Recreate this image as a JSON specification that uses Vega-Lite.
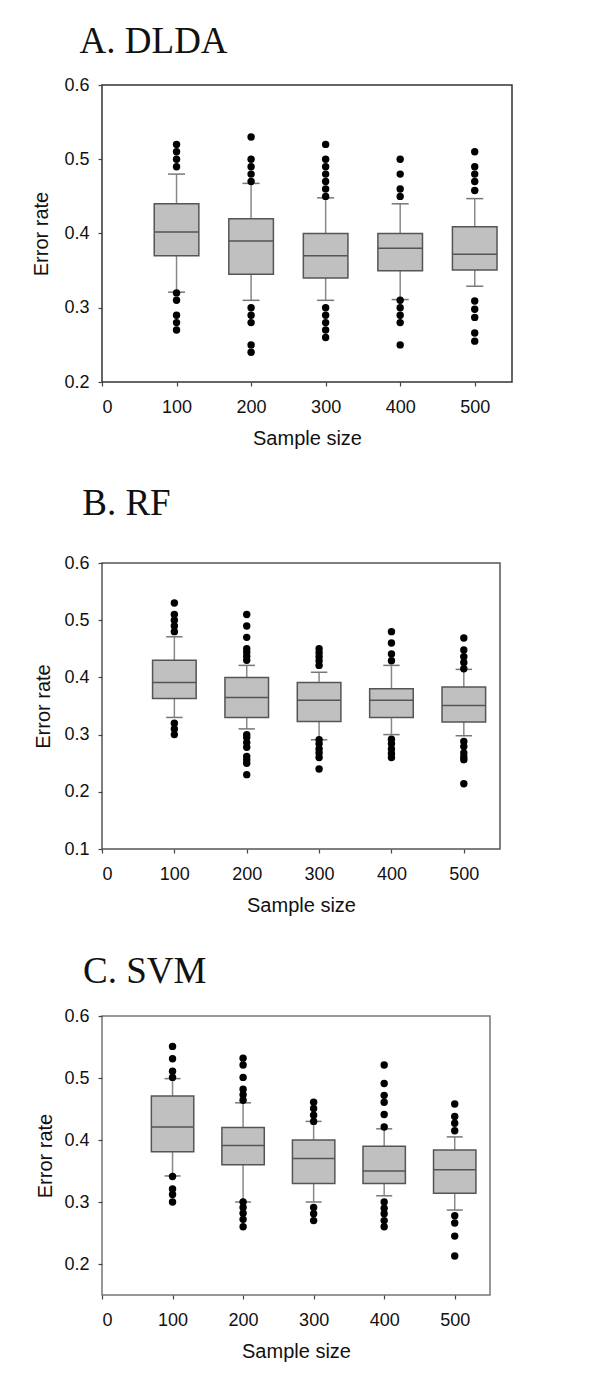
{
  "$schema": "https://vega.github.io/schema/vega-lite/v6.json",
  "background": "white",
  "padding": {"left": 30, "top": 22, "right": 0, "bottom": 0},
  "datasets": {
    "boxes": [
      {"panel": "A", "n": 100, "lo": 0.321, "q1": 0.370, "med": 0.402, "q3": 0.440, "hi": 0.480},
      {"panel": "A", "n": 200, "lo": 0.310, "q1": 0.345, "med": 0.390, "q3": 0.420, "hi": 0.4675},
      {"panel": "A", "n": 300, "lo": 0.310, "q1": 0.340, "med": 0.370, "q3": 0.400, "hi": 0.448},
      {"panel": "A", "n": 400, "lo": 0.311, "q1": 0.350, "med": 0.380, "q3": 0.400, "hi": 0.440},
      {"panel": "A", "n": 500, "lo": 0.329, "q1": 0.351, "med": 0.372, "q3": 0.409, "hi": 0.447},
      {"panel": "B", "n": 100, "lo": 0.330, "q1": 0.363, "med": 0.391, "q3": 0.430, "hi": 0.471},
      {"panel": "B", "n": 200, "lo": 0.310, "q1": 0.330, "med": 0.365, "q3": 0.400, "hi": 0.421},
      {"panel": "B", "n": 300, "lo": 0.291, "q1": 0.323, "med": 0.360, "q3": 0.391, "hi": 0.409},
      {"panel": "B", "n": 400, "lo": 0.300, "q1": 0.330, "med": 0.360, "q3": 0.380, "hi": 0.421},
      {"panel": "B", "n": 500, "lo": 0.298, "q1": 0.322, "med": 0.351, "q3": 0.383, "hi": 0.414},
      {"panel": "C", "n": 100, "lo": 0.342, "q1": 0.381, "med": 0.421, "q3": 0.471, "hi": 0.499},
      {"panel": "C", "n": 200, "lo": 0.300, "q1": 0.360, "med": 0.391, "q3": 0.420, "hi": 0.460},
      {"panel": "C", "n": 300, "lo": 0.300, "q1": 0.330, "med": 0.370, "q3": 0.400, "hi": 0.430},
      {"panel": "C", "n": 400, "lo": 0.310, "q1": 0.330, "med": 0.350, "q3": 0.390, "hi": 0.418},
      {"panel": "C", "n": 500, "lo": 0.287, "q1": 0.314, "med": 0.352, "q3": 0.384, "hi": 0.405}
    ],
    "outliers": [
      {"panel": "A", "n": 100, "v": 0.52}, {"panel": "A", "n": 100, "v": 0.51}, {"panel": "A", "n": 100, "v": 0.50}, {"panel": "A", "n": 100, "v": 0.49},
      {"panel": "A", "n": 100, "v": 0.32}, {"panel": "A", "n": 100, "v": 0.31}, {"panel": "A", "n": 100, "v": 0.29}, {"panel": "A", "n": 100, "v": 0.28}, {"panel": "A", "n": 100, "v": 0.27},
      {"panel": "A", "n": 200, "v": 0.53}, {"panel": "A", "n": 200, "v": 0.50}, {"panel": "A", "n": 200, "v": 0.49}, {"panel": "A", "n": 200, "v": 0.48}, {"panel": "A", "n": 200, "v": 0.47},
      {"panel": "A", "n": 200, "v": 0.30}, {"panel": "A", "n": 200, "v": 0.29}, {"panel": "A", "n": 200, "v": 0.28}, {"panel": "A", "n": 200, "v": 0.25}, {"panel": "A", "n": 200, "v": 0.24},
      {"panel": "A", "n": 300, "v": 0.52}, {"panel": "A", "n": 300, "v": 0.50}, {"panel": "A", "n": 300, "v": 0.49}, {"panel": "A", "n": 300, "v": 0.48}, {"panel": "A", "n": 300, "v": 0.47}, {"panel": "A", "n": 300, "v": 0.46}, {"panel": "A", "n": 300, "v": 0.45},
      {"panel": "A", "n": 300, "v": 0.30}, {"panel": "A", "n": 300, "v": 0.29}, {"panel": "A", "n": 300, "v": 0.28}, {"panel": "A", "n": 300, "v": 0.27}, {"panel": "A", "n": 300, "v": 0.26},
      {"panel": "A", "n": 400, "v": 0.50}, {"panel": "A", "n": 400, "v": 0.48}, {"panel": "A", "n": 400, "v": 0.46}, {"panel": "A", "n": 400, "v": 0.45},
      {"panel": "A", "n": 400, "v": 0.31}, {"panel": "A", "n": 400, "v": 0.30}, {"panel": "A", "n": 400, "v": 0.29}, {"panel": "A", "n": 400, "v": 0.28}, {"panel": "A", "n": 400, "v": 0.25},
      {"panel": "A", "n": 500, "v": 0.51}, {"panel": "A", "n": 500, "v": 0.49}, {"panel": "A", "n": 500, "v": 0.48}, {"panel": "A", "n": 500, "v": 0.47}, {"panel": "A", "n": 500, "v": 0.458},
      {"panel": "A", "n": 500, "v": 0.309}, {"panel": "A", "n": 500, "v": 0.298}, {"panel": "A", "n": 500, "v": 0.287}, {"panel": "A", "n": 500, "v": 0.266}, {"panel": "A", "n": 500, "v": 0.255},
      {"panel": "B", "n": 100, "v": 0.53}, {"panel": "B", "n": 100, "v": 0.51}, {"panel": "B", "n": 100, "v": 0.50}, {"panel": "B", "n": 100, "v": 0.49}, {"panel": "B", "n": 100, "v": 0.48},
      {"panel": "B", "n": 100, "v": 0.32}, {"panel": "B", "n": 100, "v": 0.31}, {"panel": "B", "n": 100, "v": 0.30},
      {"panel": "B", "n": 200, "v": 0.51}, {"panel": "B", "n": 200, "v": 0.49}, {"panel": "B", "n": 200, "v": 0.47}, {"panel": "B", "n": 200, "v": 0.45}, {"panel": "B", "n": 200, "v": 0.444}, {"panel": "B", "n": 200, "v": 0.437}, {"panel": "B", "n": 200, "v": 0.43},
      {"panel": "B", "n": 200, "v": 0.30}, {"panel": "B", "n": 200, "v": 0.295}, {"panel": "B", "n": 200, "v": 0.286}, {"panel": "B", "n": 200, "v": 0.278}, {"panel": "B", "n": 200, "v": 0.262}, {"panel": "B", "n": 200, "v": 0.256}, {"panel": "B", "n": 200, "v": 0.25}, {"panel": "B", "n": 200, "v": 0.23},
      {"panel": "B", "n": 300, "v": 0.45}, {"panel": "B", "n": 300, "v": 0.443}, {"panel": "B", "n": 300, "v": 0.436}, {"panel": "B", "n": 300, "v": 0.429}, {"panel": "B", "n": 300, "v": 0.421},
      {"panel": "B", "n": 300, "v": 0.291}, {"panel": "B", "n": 300, "v": 0.284}, {"panel": "B", "n": 300, "v": 0.275}, {"panel": "B", "n": 300, "v": 0.268}, {"panel": "B", "n": 300, "v": 0.26}, {"panel": "B", "n": 300, "v": 0.24},
      {"panel": "B", "n": 400, "v": 0.48}, {"panel": "B", "n": 400, "v": 0.46}, {"panel": "B", "n": 400, "v": 0.441}, {"panel": "B", "n": 400, "v": 0.429},
      {"panel": "B", "n": 400, "v": 0.292}, {"panel": "B", "n": 400, "v": 0.284}, {"panel": "B", "n": 400, "v": 0.275}, {"panel": "B", "n": 400, "v": 0.267}, {"panel": "B", "n": 400, "v": 0.26},
      {"panel": "B", "n": 500, "v": 0.469}, {"panel": "B", "n": 500, "v": 0.448}, {"panel": "B", "n": 500, "v": 0.436}, {"panel": "B", "n": 500, "v": 0.426}, {"panel": "B", "n": 500, "v": 0.415},
      {"panel": "B", "n": 500, "v": 0.288}, {"panel": "B", "n": 500, "v": 0.279}, {"panel": "B", "n": 500, "v": 0.268}, {"panel": "B", "n": 500, "v": 0.261}, {"panel": "B", "n": 500, "v": 0.256}, {"panel": "B", "n": 500, "v": 0.214},
      {"panel": "C", "n": 100, "v": 0.551}, {"panel": "C", "n": 100, "v": 0.531}, {"panel": "C", "n": 100, "v": 0.511}, {"panel": "C", "n": 100, "v": 0.501},
      {"panel": "C", "n": 100, "v": 0.341}, {"panel": "C", "n": 100, "v": 0.321}, {"panel": "C", "n": 100, "v": 0.312}, {"panel": "C", "n": 100, "v": 0.30},
      {"panel": "C", "n": 200, "v": 0.532}, {"panel": "C", "n": 200, "v": 0.521}, {"panel": "C", "n": 200, "v": 0.501}, {"panel": "C", "n": 200, "v": 0.482}, {"panel": "C", "n": 200, "v": 0.473}, {"panel": "C", "n": 200, "v": 0.464},
      {"panel": "C", "n": 200, "v": 0.30}, {"panel": "C", "n": 200, "v": 0.291}, {"panel": "C", "n": 200, "v": 0.282}, {"panel": "C", "n": 200, "v": 0.272}, {"panel": "C", "n": 200, "v": 0.26},
      {"panel": "C", "n": 300, "v": 0.461}, {"panel": "C", "n": 300, "v": 0.451}, {"panel": "C", "n": 300, "v": 0.44}, {"panel": "C", "n": 300, "v": 0.43},
      {"panel": "C", "n": 300, "v": 0.291}, {"panel": "C", "n": 300, "v": 0.281}, {"panel": "C", "n": 300, "v": 0.27},
      {"panel": "C", "n": 400, "v": 0.521}, {"panel": "C", "n": 400, "v": 0.491}, {"panel": "C", "n": 400, "v": 0.472}, {"panel": "C", "n": 400, "v": 0.461}, {"panel": "C", "n": 400, "v": 0.441}, {"panel": "C", "n": 400, "v": 0.421},
      {"panel": "C", "n": 400, "v": 0.30}, {"panel": "C", "n": 400, "v": 0.29}, {"panel": "C", "n": 400, "v": 0.281}, {"panel": "C", "n": 400, "v": 0.27}, {"panel": "C", "n": 400, "v": 0.26},
      {"panel": "C", "n": 500, "v": 0.458}, {"panel": "C", "n": 500, "v": 0.438}, {"panel": "C", "n": 500, "v": 0.427}, {"panel": "C", "n": 500, "v": 0.415},
      {"panel": "C", "n": 500, "v": 0.278}, {"panel": "C", "n": 500, "v": 0.266}, {"panel": "C", "n": 500, "v": 0.245}, {"panel": "C", "n": 500, "v": 0.213}
    ]
  },
  "config": {
    "font": "Liberation Sans",
    "axis": {
      "grid": false, "domain": false,
      "labelFont": "Liberation Sans", "labelFontSize": 18, "labelColor": "#111",
      "titleFont": "Liberation Sans", "titleFontSize": 20, "titleFontWeight": "normal", "titleColor": "#111",
      "tickSize": 4, "tickColor": "#444", "tickWidth": 1.2
    },
    "title": {"font": "Liberation Serif", "fontSize": 37, "fontWeight": "normal", "color": "#111", "anchor": "start", "frame": "group", "baseline": "alphabetic"},
    "concat": {"spacing": 34}
  },
  "vconcat": [
    {
      "width": 410, "height": 297,
      "title": {"text": "A. DLDA", "dx": -22.4, "offset": 15},
      "view": {"stroke": "#333", "strokeWidth": 1.5},
      "encoding": {
        "x": {"field": "n", "type": "quantitative", "title": "Sample size",
              "scale": {"domain": [0, 550], "nice": false},
              "axis": {"values": [0, 100, 200, 300, 400, 500], "labelPadding": 12, "titlePadding": 12.5}}
      },
      "layer": [
        {"data": {"name": "boxes"}, "transform": [{"filter": "datum.panel === 'A'"}],
         "mark": {"type": "rule", "color": "#888", "strokeWidth": 1.5},
         "encoding": {"y": {"field": "lo", "type": "quantitative", "title": "Error rate",
                            "scale": {"domain": [0.2, 0.6], "nice": false, "zero": false},
                            "axis": {"values": [0.2, 0.3, 0.4, 0.5, 0.6], "format": ".1f", "labelPadding": 9, "titlePadding": 12.5}},
                      "y2": {"field": "hi"}}},
        {"data": {"name": "boxes"}, "transform": [{"filter": "datum.panel === 'A'"}],
         "mark": {"type": "rule", "color": "#777", "strokeWidth": 1.5, "xOffset": -8.5, "x2Offset": 8.5},
         "encoding": {"x2": {"field": "n"}, "y": {"field": "lo", "type": "quantitative", "title": "Error rate"}}},
        {"data": {"name": "boxes"}, "transform": [{"filter": "datum.panel === 'A'"}],
         "mark": {"type": "rule", "color": "#777", "strokeWidth": 1.5, "xOffset": -8.5, "x2Offset": 8.5},
         "encoding": {"x2": {"field": "n"}, "y": {"field": "hi", "type": "quantitative", "title": "Error rate"}}},
        {"data": {"name": "boxes"}, "transform": [{"filter": "datum.panel === 'A'"}],
         "mark": {"type": "rect", "fill": "#c0c0c0", "stroke": "#555", "strokeWidth": 1.5, "xOffset": -22.3, "x2Offset": 22.3},
         "encoding": {"x2": {"field": "n"}, "y": {"field": "q1", "type": "quantitative", "title": "Error rate"}, "y2": {"field": "q3"}}},
        {"data": {"name": "boxes"}, "transform": [{"filter": "datum.panel === 'A'"}],
         "mark": {"type": "rule", "color": "#555", "strokeWidth": 1.5, "xOffset": -22.3, "x2Offset": 22.3},
         "encoding": {"x2": {"field": "n"}, "y": {"field": "med", "type": "quantitative", "title": "Error rate"}}},
        {"data": {"name": "outliers"}, "transform": [{"filter": "datum.panel === 'A'"}],
         "mark": {"type": "circle", "color": "black", "opacity": 1, "size": 55},
         "encoding": {"y": {"field": "v", "type": "quantitative", "title": "Error rate"}}}
      ]
    },
    {
      "width": 398, "height": 286,
      "title": {"text": "B. RF", "dx": -19.8, "offset": 31},
      "view": {"stroke": "#555", "strokeWidth": 1.5},
      "encoding": {
        "x": {"field": "n", "type": "quantitative", "title": "Sample size",
              "scale": {"domain": [0, 550], "nice": false},
              "axis": {"values": [0, 100, 200, 300, 400, 500], "labelPadding": 12, "titlePadding": 12.5}}
      },
      "layer": [
        {"data": {"name": "boxes"}, "transform": [{"filter": "datum.panel === 'B'"}],
         "mark": {"type": "rule", "color": "#888", "strokeWidth": 1.5},
         "encoding": {"y": {"field": "lo", "type": "quantitative", "title": "Error rate",
                            "scale": {"domain": [0.1, 0.6], "nice": false, "zero": false},
                            "axis": {"values": [0.1, 0.2, 0.3, 0.4, 0.5, 0.6], "format": ".1f", "labelPadding": 9, "titlePadding": 10.1}},
                      "y2": {"field": "hi"}}},
        {"data": {"name": "boxes"}, "transform": [{"filter": "datum.panel === 'B'"}],
         "mark": {"type": "rule", "color": "#777", "strokeWidth": 1.5, "xOffset": -8.2, "x2Offset": 8.2},
         "encoding": {"x2": {"field": "n"}, "y": {"field": "lo", "type": "quantitative", "title": "Error rate"}}},
        {"data": {"name": "boxes"}, "transform": [{"filter": "datum.panel === 'B'"}],
         "mark": {"type": "rule", "color": "#777", "strokeWidth": 1.5, "xOffset": -8.2, "x2Offset": 8.2},
         "encoding": {"x2": {"field": "n"}, "y": {"field": "hi", "type": "quantitative", "title": "Error rate"}}},
        {"data": {"name": "boxes"}, "transform": [{"filter": "datum.panel === 'B'"}],
         "mark": {"type": "rect", "fill": "#c0c0c0", "stroke": "#555", "strokeWidth": 1.5, "xOffset": -21.8, "x2Offset": 21.8},
         "encoding": {"x2": {"field": "n"}, "y": {"field": "q1", "type": "quantitative", "title": "Error rate"}, "y2": {"field": "q3"}}},
        {"data": {"name": "boxes"}, "transform": [{"filter": "datum.panel === 'B'"}],
         "mark": {"type": "rule", "color": "#555", "strokeWidth": 1.5, "xOffset": -21.8, "x2Offset": 21.8},
         "encoding": {"x2": {"field": "n"}, "y": {"field": "med", "type": "quantitative", "title": "Error rate"}}},
        {"data": {"name": "outliers"}, "transform": [{"filter": "datum.panel === 'B'"}],
         "mark": {"type": "circle", "color": "black", "opacity": 1, "size": 55},
         "encoding": {"y": {"field": "v", "type": "quantitative", "title": "Error rate"}}}
      ]
    },
    {
      "width": 388, "height": 279,
      "title": {"text": "C. SVM", "dx": -19, "offset": 16.5},
      "view": {"stroke": "#777", "strokeWidth": 1.5},
      "encoding": {
        "x": {"field": "n", "type": "quantitative", "title": "Sample size",
              "scale": {"domain": [0, 550], "nice": false},
              "axis": {"values": [0, 100, 200, 300, 400, 500], "labelPadding": 12, "titlePadding": 12.5}}
      },
      "layer": [
        {"data": {"name": "boxes"}, "transform": [{"filter": "datum.panel === 'C'"}],
         "mark": {"type": "rule", "color": "#888", "strokeWidth": 1.5},
         "encoding": {"y": {"field": "lo", "type": "quantitative", "title": "Error rate",
                            "scale": {"domain": [0.15, 0.6], "nice": false, "zero": false},
                            "axis": {"values": [0.2, 0.3, 0.4, 0.5, 0.6], "format": ".1f", "labelPadding": 9, "titlePadding": 8.5}},
                      "y2": {"field": "hi"}}},
        {"data": {"name": "boxes"}, "transform": [{"filter": "datum.panel === 'C'"}],
         "mark": {"type": "rule", "color": "#777", "strokeWidth": 1.5, "xOffset": -8, "x2Offset": 8},
         "encoding": {"x2": {"field": "n"}, "y": {"field": "lo", "type": "quantitative", "title": "Error rate"}}},
        {"data": {"name": "boxes"}, "transform": [{"filter": "datum.panel === 'C'"}],
         "mark": {"type": "rule", "color": "#777", "strokeWidth": 1.5, "xOffset": -8, "x2Offset": 8},
         "encoding": {"x2": {"field": "n"}, "y": {"field": "hi", "type": "quantitative", "title": "Error rate"}}},
        {"data": {"name": "boxes"}, "transform": [{"filter": "datum.panel === 'C'"}],
         "mark": {"type": "rect", "fill": "#c0c0c0", "stroke": "#555", "strokeWidth": 1.5, "xOffset": -21.2, "x2Offset": 21.2},
         "encoding": {"x2": {"field": "n"}, "y": {"field": "q1", "type": "quantitative", "title": "Error rate"}, "y2": {"field": "q3"}}},
        {"data": {"name": "boxes"}, "transform": [{"filter": "datum.panel === 'C'"}],
         "mark": {"type": "rule", "color": "#555", "strokeWidth": 1.5, "xOffset": -21.2, "x2Offset": 21.2},
         "encoding": {"x2": {"field": "n"}, "y": {"field": "med", "type": "quantitative", "title": "Error rate"}}},
        {"data": {"name": "outliers"}, "transform": [{"filter": "datum.panel === 'C'"}],
         "mark": {"type": "circle", "color": "black", "opacity": 1, "size": 55},
         "encoding": {"y": {"field": "v", "type": "quantitative", "title": "Error rate"}}}
      ]
    }
  ]
}
